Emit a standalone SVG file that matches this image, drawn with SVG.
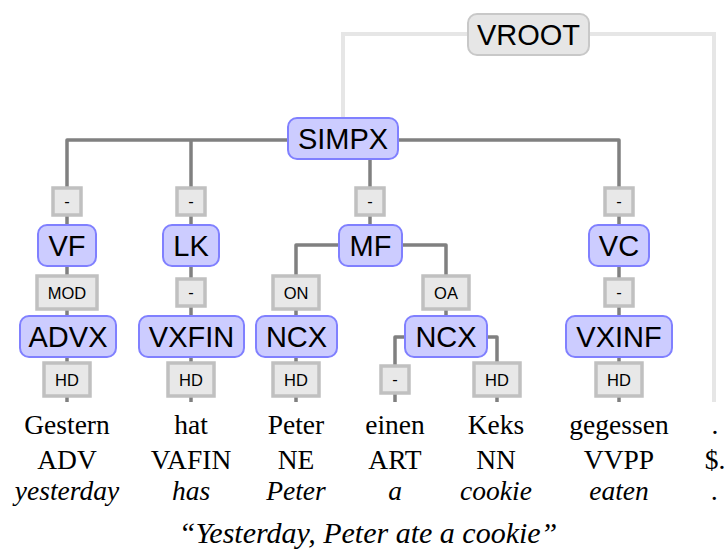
<svg xmlns="http://www.w3.org/2000/svg" width="725" height="551" viewBox="0 0 725 551">
  <style>
    .node rect { fill: #ccccff; stroke: #8080ff; stroke-width: 2; }
    .root rect { fill: #e6e6e6; stroke: #c8c8c8; stroke-width: 2; }
    .node text, .root text { font-family: "Liberation Sans", Arial, sans-serif; font-size: 29px; fill: #000; text-anchor: middle; dominant-baseline: central; }
    .edge rect { fill: #e8e8e8; stroke: #c0c0c0; stroke-width: 3.5; }
    .edge text { font-family: "Liberation Sans", Arial, sans-serif; font-size: 16.5px; fill: #000; text-anchor: middle; dominant-baseline: central; }
    .conn { fill: none; stroke: #808080; stroke-width: 3.5; stroke-linejoin: round; }
    .rootconn { fill: none; stroke: #e6e6e6; stroke-width: 4; }
    .word { font-family: "Liberation Serif", "Times New Roman", serif; font-size: 27.5px; fill: #000; text-anchor: middle; }
    .gloss { font-style: italic; }
    .caption { font-size: 30px; }
  </style>

  <!-- connectors -->
  <g id="connectors">
    <path class="rootconn" d="M343 118 V34 H714 V402"/>
    <path class="conn" d="M67 225 V140 H619 V225"/>
    <path class="conn" d="M191 140 V225"/>
    <path class="conn" d="M370 140 V225"/>
    <path class="conn" d="M67 266 V402"/>
    <path class="conn" d="M191 266 V402"/>
    <path class="conn" d="M339 245 H296 V402"/>
    <path class="conn" d="M402 245 H446 V316"/>
    <path class="conn" d="M405 337 H395 V402"/>
    <path class="conn" d="M487 337 H497 V402"/>
    <path class="conn" d="M619 266 V402"/>
  </g>

  <!-- edge labels -->
  <g id="edge-labels">
    <g class="edge"><rect x="53" y="188" width="28" height="27"/><text x="67" y="201">-</text></g>
    <g class="edge"><rect x="177" y="188" width="28" height="27"/><text x="191" y="201">-</text></g>
    <g class="edge"><rect x="356" y="188" width="28" height="27"/><text x="370" y="201">-</text></g>
    <g class="edge"><rect x="605" y="188" width="28" height="27"/><text x="619" y="201">-</text></g>

    <g class="edge"><rect x="37" y="276" width="60" height="33"/><text x="67" y="293">MOD</text></g>
    <g class="edge"><rect x="177" y="279" width="28" height="27"/><text x="191" y="292">-</text></g>
    <g class="edge"><rect x="273" y="276" width="46" height="33"/><text x="296" y="293">ON</text></g>
    <g class="edge"><rect x="423" y="276" width="46" height="33"/><text x="446" y="293">OA</text></g>
    <g class="edge"><rect x="605" y="279" width="28" height="27"/><text x="619" y="292">-</text></g>

    <g class="edge"><rect x="44" y="363" width="46" height="33"/><text x="67" y="380">HD</text></g>
    <g class="edge"><rect x="168" y="363" width="46" height="33"/><text x="191" y="380">HD</text></g>
    <g class="edge"><rect x="273" y="363" width="46" height="33"/><text x="296" y="380">HD</text></g>
    <g class="edge"><rect x="381" y="366" width="28" height="27"/><text x="395" y="379">-</text></g>
    <g class="edge"><rect x="474" y="363" width="46" height="33"/><text x="497" y="380">HD</text></g>
    <g class="edge"><rect x="596" y="363" width="46" height="33"/><text x="619" y="380">HD</text></g>
  </g>

  <!-- phrase nodes -->
  <g id="VROOT" class="root"><rect x="468" y="14" width="121" height="41" rx="9"/><text x="528.5" y="35">VROOT</text></g>
  <g id="SIMPX" class="node"><rect x="288" y="118" width="110" height="41" rx="9"/><text x="343" y="139">SIMPX</text></g>
  <g id="VF" class="node"><rect x="38" y="225" width="58" height="41" rx="9"/><text x="67" y="246">VF</text></g>
  <g id="LK" class="node"><rect x="163" y="225" width="56" height="41" rx="9"/><text x="191" y="246">LK</text></g>
  <g id="MF" class="node"><rect x="339" y="225" width="63" height="41" rx="9"/><text x="370.5" y="246">MF</text></g>
  <g id="VC" class="node"><rect x="589" y="225" width="60" height="41" rx="9"/><text x="619" y="246">VC</text></g>
  <g id="ADVX" class="node"><rect x="20" y="316" width="96" height="41" rx="9"/><text x="68" y="337">ADVX</text></g>
  <g id="VXFIN" class="node"><rect x="139" y="316" width="105" height="41" rx="9"/><text x="191.5" y="337">VXFIN</text></g>
  <g id="NCX-ON" class="node"><rect x="256" y="316" width="81" height="41" rx="9"/><text x="296.5" y="337">NCX</text></g>
  <g id="NCX-OA" class="node"><rect x="405" y="316" width="82" height="41" rx="9"/><text x="446" y="337">NCX</text></g>
  <g id="VXINF" class="node"><rect x="566" y="316" width="106" height="41" rx="9"/><text x="619" y="337">VXINF</text></g>

  <!-- tokens, POS tags and glosses -->
  <g id="tokens">
    <text class="word" x="67" y="434">Gestern</text>
    <text class="word" x="191" y="434">hat</text>
    <text class="word" x="296" y="434">Peter</text>
    <text class="word" x="395" y="434">einen</text>
    <text class="word" x="496" y="434">Keks</text>
    <text class="word" x="619" y="434">gegessen</text>
    <text class="word" x="715" y="434">.</text>
  </g>
  <g id="tags">
    <text class="word" x="67" y="469">ADV</text>
    <text class="word" x="191" y="469">VAFIN</text>
    <text class="word" x="296" y="469">NE</text>
    <text class="word" x="395" y="469">ART</text>
    <text class="word" x="496" y="469">NN</text>
    <text class="word" x="619" y="469">VVPP</text>
    <text class="word" x="715" y="469">$.</text>
  </g>
  <g id="glosses">
    <text class="word gloss" x="67" y="500">yesterday</text>
    <text class="word gloss" x="191" y="500">has</text>
    <text class="word gloss" x="296" y="500">Peter</text>
    <text class="word gloss" x="395" y="500">a</text>
    <text class="word gloss" x="496" y="500">cookie</text>
    <text class="word gloss" x="619" y="500">eaten</text>
    <text class="word gloss" x="715" y="500">.</text>
  </g>

  <text id="translation" class="word gloss caption" x="368" y="543">“Yesterday, Peter ate a cookie”</text>
</svg>
